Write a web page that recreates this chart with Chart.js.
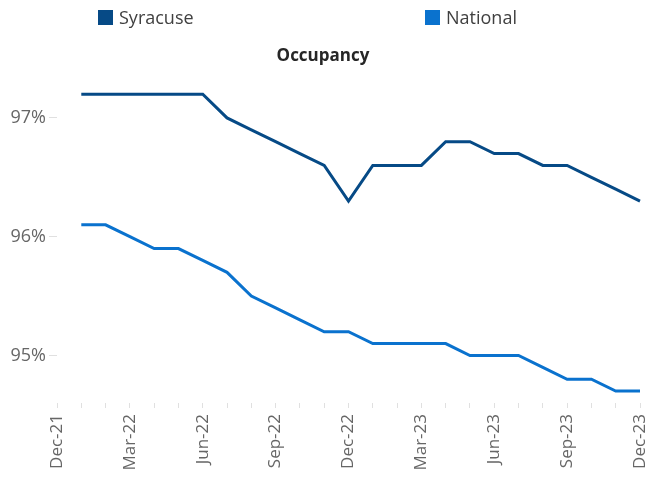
<!DOCTYPE html>
<html>
<head>
<meta charset="utf-8">
<script src="https://cdn.jsdelivr.net/npm/chart.js@4.4.1/dist/chart.umd.min.js"></script>
<style>
  html, body { margin: 0; padding: 0; background: #fff; }
  #wrap { position: relative; width: 646px; height: 480px; }
  #chart { position: absolute; left: 0; top: 0; }
  .leg { position: absolute; top: 5px; display: flex; align-items: center;
         font-family: "Open Sans", sans-serif; font-size: 18px; color: #404040; }
  .leg span.box { display: inline-block; width: 15px; height: 15px; margin-right: 6px; }
</style>
</head>
<body>
<div id="wrap">
  <canvas id="chart" width="646" height="480"></canvas>
  <div class="leg" id="leg0" style="left:98px;"><span class="box"></span><span class="txt"></span></div>
  <div class="leg" id="leg1" style="left:425px;"><span class="box"></span><span class="txt"></span></div>
</div>
<script>
// Month categories (Dec-21 .. Dec-23); data begins Jan-22
const months = ["Dec-21","Jan-22","Feb-22","Mar-22","Apr-22","May-22","Jun-22","Jul-22","Aug-22","Sep-22","Oct-22","Nov-22","Dec-22",
                "Jan-23","Feb-23","Mar-23","Apr-23","May-23","Jun-23","Jul-23","Aug-23","Sep-23","Oct-23","Nov-23","Dec-23"];
const seriesNames = ["Syracuse", "National"];
const syracuse = [null, 97.2, 97.2, 97.2, 97.2, 97.2, 97.2, 97.0, 96.9, 96.8, 96.7, 96.6, 96.3,
                  96.6, 96.6, 96.6, 96.8, 96.8, 96.7, 96.7, 96.6, 96.6, 96.5, 96.4, 96.3];
const national = [null, 96.1, 96.1, 96.0, 95.9, 95.9, 95.8, 95.7, 95.5, 95.4, 95.3, 95.2, 95.2,
                  95.1, 95.1, 95.1, 95.1, 95.0, 95.0, 95.0, 94.9, 94.8, 94.8, 94.7, 94.7];
const yTicks = [95, 96, 97];
const colors = ["#064A86", "#0A72CE"];

[0,1].forEach(i => {
  const el = document.getElementById("leg" + i);
  el.querySelector(".box").style.background = colors[i];
  el.querySelector(".txt").textContent = seriesNames[i];
});

new Chart(document.getElementById("chart"), {
  type: "line",
  data: {
    labels: months,
    datasets: [
      { label: seriesNames[0], data: syracuse, borderColor: colors[0], backgroundColor: colors[0],
        borderWidth: 3, pointRadius: 0, tension: 0, spanGaps: false },
      { label: seriesNames[1], data: national, borderColor: colors[1], backgroundColor: colors[1],
        borderWidth: 3, pointRadius: 0, tension: 0, spanGaps: false }
    ]
  },
  options: {
    responsive: false,
    animation: false,
    layout: { padding: { top: 46, left: 0, right: 0, bottom: 0 } },
    plugins: {
      legend: { display: false },
      tooltip: { enabled: false },
      title: {
        display: true, text: "Occupancy", color: "#262626",
        font: { family: "'Open Sans', sans-serif", size: 17, weight: "bold" },
        padding: { top: 0, bottom: 4 }
      }
    },
    scales: {
      x: {
        type: "category",
        offset: false,
        border: { display: false },
        grid: { display: true, drawOnChartArea: false, drawTicks: true, tickLength: 5, color: "#e0e0e0" },
        afterFit: function(s) { s.height = 77; s.paddingRight = 6; s.paddingLeft = 0; },
        ticks: {
          autoSkip: false, minRotation: 90, maxRotation: 90, padding: 6,
          color: "#666666",
          font: { family: "'Open Sans', sans-serif", size: 17 },
          callback: function(v, i) { return i % 3 === 0 ? months[i] : ""; }
        }
      },
      y: {
        min: 94.6, max: 97.4,
        border: { display: false },
        grid: { display: true, drawOnChartArea: false, drawTicks: true, tickLength: 8, color: "#e0e0e0" },
        afterBuildTicks: function(s) { s.ticks = yTicks.map(v => ({ value: v })); },
        afterFit: function(s) { s.width = 57; },
        ticks: {
          padding: 3, color: "#666666",
          font: { family: "'Open Sans', sans-serif", size: 18 },
          callback: function(v) { return v + "%"; }
        }
      }
    }
  }
});
</script>
</body>
</html>
